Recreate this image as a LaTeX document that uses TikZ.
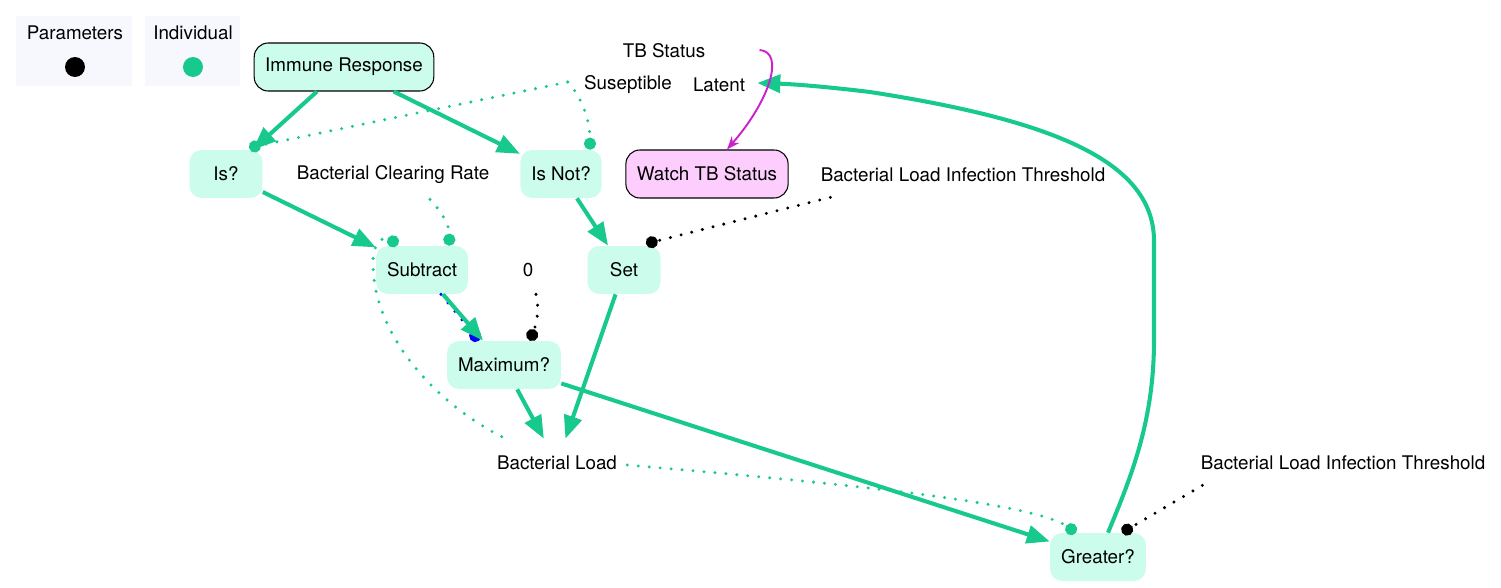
\documentclass[tikz,border=0pt]{standalone}
\usepackage{fontspec}
\setmainfont{TeX Gyre Heros}
\usepackage{xcolor}
\usepackage{tikz}
\usetikzlibrary{arrows.meta}
\definecolor{flowgreen}{RGB}{24,201,142}
\definecolor{mint}{RGB}{204,253,236}
\definecolor{watchpink}{RGB}{253,206,253}
\definecolor{watchline}{RGB}{204,34,204}
\definecolor{legendfill}{RGB}{247,248,254}

\begin{document}
\begin{tikzpicture}[x=0.02cm, y=-0.02cm, font=\fontsize{10.7}{12}\selectfont,
    box/.style={rounded corners=0.24cm, fill=mint, minimum width=1.46cm, minimum height=0.96cm, inner xsep=0.22cm},
    linkbox/.style={box, draw=black, line width=0.6pt, rounded corners=0.28cm},
    lbl/.style={inner xsep=0.04cm, inner ysep=0pt, minimum height=0.96cm},
    legdot/.style={circle, minimum size=0.4cm, inner sep=0pt},
    flow/.style={flowgreen, line width=2.3pt, -{Triangle[length=0.46cm,width=0.36cm]}},
    param/.style={line width=1.9pt, line cap=round, dash pattern=on 0pt off 0.22cm, -{Circle[length=0.24cm]}}]
        \useasboundingbox (0,0) rectangle (1501,588);
        % legend
        \fill[legendfill] (16,16) rectangle (132,86);
        \fill[legendfill] (145,16) rectangle (240,86);
        \node (legP) at (75,33) {Parameters};
        \node (legI) at (193,33) {Individual};
        \node[legdot, fill=black] (parDot) at (75,67) {};
        \node[legdot, fill=flowgreen] (indDot) at (193,67) {};
        % blocks and inputs
        \node[linkbox] (imm) at (344,67) {Immune Response};
        \node[lbl] (tbs) at (664,51) {TB Status};
        \node[lbl] (sus) at (628,85) {Suseptible};
        \node[lbl] (lat) at (719,85) {Latent};
        \node[linkbox, fill=watchpink] (watch) at (707,174) {Watch TB Status};
        \node[box] (is) at (226,174) {Is?};
        \node[lbl] (bcr) at (393,175) {Bacterial Clearing Rate};
        \node[box] (isnot) at (561,174) {Is Not?};
        \node[lbl] (blit1) at (963,175) {Bacterial Load Infection Threshold};
        \node[box] (sub) at (422,270) {Subtract};
        \node[lbl] (zero) at (528,270) {0};
        \node[box] (set) at (624,270) {Set};
        \node[box] (max) at (504,365) {Maximum?};
        \node[lbl] (bl) at (557,463) {Bacterial Load};
        \node[lbl] (blit2) at (1343,463) {Bacterial Load Infection Threshold};
        \node[box] (gr) at (1098,557) {Greater?};
        % parameter links
        \draw[param, flowgreen] ([shift={(-14,-3)}]sus.west) -- ([shift={(23,-2)}]is.north);
        \draw[param, flowgreen] ([shift={(-14,-3)}]sus.west) .. controls (580,95) and (590,118) .. ([shift={(29,0)}]isnot.north);
        \draw[param, flowgreen] ([shift={(37,0)}]bcr.south) .. controls (440,210) and (450,225) .. ([shift={(27,0)}]sub.north);
        \draw[param, flowgreen] ([shift={(7,-2)}]bl.north west) .. controls (430,400) and (372,330) .. (373,262) .. controls (373,240) and (385,236) .. ([shift={(-24,-1)}]sub.north);
        \draw[param, blue] ([shift={(19,0)}]sub.south) -- ([shift={(-25,0)}]max.north);
        \draw[param] ([shift={(8,0)}]zero.south) .. controls (540,310) and (536,325) .. ([shift={(26,0)}]max.north);
        \draw[param] ([shift={(12,-2)}]blit1.south west) -- ([shift={(22,-2)}]set.north);
        \draw[param, flowgreen] ([shift={(8,2)}]bl.east) .. controls (800,480) and (1030,500) .. ([shift={(-22,0)}]gr.north);
        \draw[param] ([shift={(4,-2)}]blit2.south west) -- ([shift={(24,0)}]gr.north);
        % flow
        \draw[flow] (imm) -- (is);
        \draw[flow] (imm) -- (isnot);
        \draw[flow] (is) -- (sub);
        \draw[flow] (isnot) -- (set);
        \draw[flow] (sub) -- (max);
        \draw[flow] (max) -- (bl);
        \draw[flow] (set) -- (bl);
        \draw[flow] (max) -- (gr);
        \draw[flow] ([shift={(10,0)}]gr.north) .. controls (1132,475) and (1154,420) .. (1154,340) -- (1154,240) .. controls (1153,160) and (1050,120) .. (870,92) .. controls (820,86) and (790,84) .. ([shift={(10,-2)}]lat.east);
        \draw[watchline, line width=1.1pt, -{Stealth[length=0.26cm, width=0.2cm, inset=0.08cm]}] ([shift={(52,-1)}]tbs.east) .. controls (785,52) and (770,100) .. ([shift={(20,0)}]watch.north);
    \end{tikzpicture}
\end{document}
